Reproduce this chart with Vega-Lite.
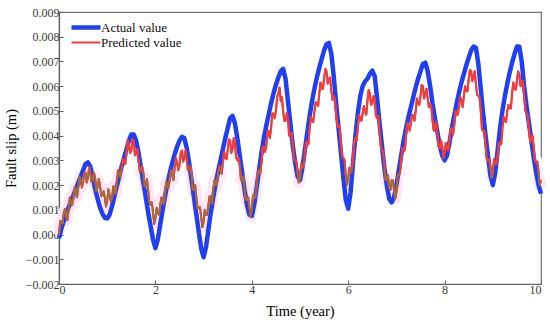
{
  "$schema": "https://vega.github.io/schema/vega-lite/v6.json",
  "width": 482,
  "height": 272,
  "autosize": {"type": "none"},
  "padding": {"left": 59, "top": 12, "right": 9, "bottom": 40},
  "config": {
    "font": "Liberation Serif",
    "view": {"stroke": "#707070", "strokeWidth": 1.2},
    "axis": {
      "grid": false,
      "domainColor": "#606060",
      "domainWidth": 1.2,
      "tickColor": "#606060",
      "tickSize": -4,
      "labelFont": "Liberation Serif",
      "labelFontSize": 12,
      "labelColor": "#3a3a3a",
      "labelPadding": 4,
      "labelOverlap": false,
      "titleFont": "Liberation Serif",
      "titleFontSize": 14.5,
      "titleFontWeight": "normal",
      "titleColor": "#000000"
    }
  },
  "data": {"values": [
    {"t":0.00,"a":-0.00015,"p":0.00000},{"t":0.05,"a":0.00025,"p":0.00050},{"t":0.10,"a":0.00055,"p":0.00090},{"t":0.15,"a":0.00085,"p":0.00075},
    {"t":0.20,"a":0.00110,"p":0.00100},{"t":0.25,"a":0.00135,"p":0.00130},{"t":0.30,"a":0.00160,"p":0.00150},{"t":0.35,"a":0.00185,"p":0.00180},
    {"t":0.40,"a":0.00210,"p":0.00190},{"t":0.45,"a":0.00235,"p":0.00220},{"t":0.50,"a":0.00260,"p":0.00210},{"t":0.55,"a":0.00285,"p":0.00250},
    {"t":0.60,"a":0.00292,"p":0.00230},{"t":0.65,"a":0.00275,"p":0.00245},{"t":0.70,"a":0.00230,"p":0.00220},{"t":0.75,"a":0.00185,"p":0.00230},
    {"t":0.80,"a":0.00145,"p":0.00190},{"t":0.85,"a":0.00110,"p":0.00200},{"t":0.90,"a":0.00085,"p":0.00160},{"t":0.95,"a":0.00068,"p":0.00150},
    {"t":1.00,"a":0.00065,"p":0.00135},{"t":1.05,"a":0.00080,"p":0.00160},{"t":1.10,"a":0.00115,"p":0.00150},{"t":1.15,"a":0.00155,"p":0.00190},
    {"t":1.20,"a":0.00195,"p":0.00210},{"t":1.25,"a":0.00235,"p":0.00250},{"t":1.30,"a":0.00275,"p":0.00270},{"t":1.35,"a":0.00310,"p":0.00300},
    {"t":1.40,"a":0.00345,"p":0.00330},{"t":1.45,"a":0.00380,"p":0.00360},{"t":1.50,"a":0.00405,"p":0.00340},{"t":1.55,"a":0.00405,"p":0.00380},
    {"t":1.60,"a":0.00380,"p":0.00330},{"t":1.65,"a":0.00330,"p":0.00300},{"t":1.70,"a":0.00270,"p":0.00260},{"t":1.75,"a":0.00210,"p":0.00250},
    {"t":1.80,"a":0.00150,"p":0.00200},{"t":1.85,"a":0.00090,"p":0.00180},{"t":1.90,"a":0.00035,"p":0.00120},{"t":1.95,"a":-0.00020,"p":0.00090},
    {"t":2.00,"a":-0.00055,"p":0.00065},{"t":2.05,"a":-0.00020,"p":0.00090},{"t":2.10,"a":0.00040,"p":0.00120},{"t":2.15,"a":0.00100,"p":0.00140},
    {"t":2.20,"a":0.00155,"p":0.00170},{"t":2.25,"a":0.00205,"p":0.00190},{"t":2.30,"a":0.00250,"p":0.00230},{"t":2.35,"a":0.00290,"p":0.00240},
    {"t":2.40,"a":0.00325,"p":0.00270},{"t":2.45,"a":0.00355,"p":0.00290},{"t":2.50,"a":0.00380,"p":0.00280},{"t":2.55,"a":0.00395,"p":0.00340},
    {"t":2.60,"a":0.00390,"p":0.00310},{"t":2.65,"a":0.00350,"p":0.00300},{"t":2.70,"a":0.00290,"p":0.00260},{"t":2.75,"a":0.00220,"p":0.00240},
    {"t":2.80,"a":0.00150,"p":0.00190},{"t":2.85,"a":0.00080,"p":0.00150},{"t":2.90,"a":0.00010,"p":0.00110},{"t":2.95,"a":-0.00055,"p":0.00070},
    {"t":3.00,"a":-0.00092,"p":0.00050},{"t":3.05,"a":-0.00050,"p":0.00080},{"t":3.10,"a":0.00020,"p":0.00120},{"t":3.15,"a":0.00090,"p":0.00140},
    {"t":3.20,"a":0.00150,"p":0.00180},{"t":3.25,"a":0.00205,"p":0.00200},{"t":3.30,"a":0.00255,"p":0.00250},{"t":3.35,"a":0.00300,"p":0.00260},
    {"t":3.40,"a":0.00345,"p":0.00290},{"t":3.45,"a":0.00390,"p":0.00310},{"t":3.50,"a":0.00430,"p":0.00340},{"t":3.55,"a":0.00470,"p":0.00380},
    {"t":3.60,"a":0.00480,"p":0.00350},{"t":3.65,"a":0.00450,"p":0.00370},{"t":3.70,"a":0.00390,"p":0.00300},{"t":3.75,"a":0.00320,"p":0.00280},
    {"t":3.80,"a":0.00250,"p":0.00220},{"t":3.85,"a":0.00180,"p":0.00180},{"t":3.90,"a":0.00120,"p":0.00140},{"t":3.95,"a":0.00080,"p":0.00110},
    {"t":4.00,"a":0.00075,"p":0.00105},{"t":4.05,"a":0.00120,"p":0.00150},{"t":4.10,"a":0.00190,"p":0.00200},{"t":4.15,"a":0.00260,"p":0.00260},
    {"t":4.20,"a":0.00330,"p":0.00290},{"t":4.25,"a":0.00390,"p":0.00350},{"t":4.30,"a":0.00440,"p":0.00360},{"t":4.35,"a":0.00485,"p":0.00420},
    {"t":4.40,"a":0.00530,"p":0.00430},{"t":4.45,"a":0.00570,"p":0.00490},{"t":4.50,"a":0.00605,"p":0.00500},{"t":4.55,"a":0.00635,"p":0.00570},
    {"t":4.60,"a":0.00660,"p":0.00540},{"t":4.65,"a":0.00670,"p":0.00500},{"t":4.70,"a":0.00630,"p":0.00460},{"t":4.75,"a":0.00540,"p":0.00470},
    {"t":4.80,"a":0.00450,"p":0.00400},{"t":4.85,"a":0.00360,"p":0.00360},{"t":4.90,"a":0.00290,"p":0.00300},{"t":4.95,"a":0.00235,"p":0.00250},
    {"t":5.00,"a":0.00220,"p":0.00230},{"t":5.05,"a":0.00270,"p":0.00270},{"t":5.10,"a":0.00340,"p":0.00330},{"t":5.15,"a":0.00410,"p":0.00370},
    {"t":5.20,"a":0.00480,"p":0.00430},{"t":5.25,"a":0.00540,"p":0.00460},{"t":5.30,"a":0.00590,"p":0.00500},{"t":5.35,"a":0.00635,"p":0.00530},
    {"t":5.40,"a":0.00675,"p":0.00570},{"t":5.45,"a":0.00710,"p":0.00590},{"t":5.50,"a":0.00745,"p":0.00630},{"t":5.55,"a":0.00770,"p":0.00660},
    {"t":5.60,"a":0.00775,"p":0.00630},{"t":5.65,"a":0.00730,"p":0.00580},{"t":5.70,"a":0.00640,"p":0.00560},{"t":5.75,"a":0.00530,"p":0.00490},
    {"t":5.80,"a":0.00430,"p":0.00440},{"t":5.85,"a":0.00330,"p":0.00360},{"t":5.90,"a":0.00230,"p":0.00310},{"t":5.95,"a":0.00140,"p":0.00240},
    {"t":6.00,"a":0.00105,"p":0.00230},{"t":6.05,"a":0.00170,"p":0.00250},{"t":6.10,"a":0.00290,"p":0.00310},{"t":6.15,"a":0.00400,"p":0.00390},
    {"t":6.20,"a":0.00490,"p":0.00430},{"t":6.25,"a":0.00560,"p":0.00470},{"t":6.30,"a":0.00600,"p":0.00490},{"t":6.35,"a":0.00620,"p":0.00500},
    {"t":6.40,"a":0.00630,"p":0.00540},{"t":6.45,"a":0.00650,"p":0.00570},{"t":6.50,"a":0.00663,"p":0.00530},{"t":6.55,"a":0.00640,"p":0.00550},
    {"t":6.60,"a":0.00550,"p":0.00470},{"t":6.65,"a":0.00450,"p":0.00420},{"t":6.70,"a":0.00360,"p":0.00340},{"t":6.75,"a":0.00270,"p":0.00280},
    {"t":6.80,"a":0.00200,"p":0.00230},{"t":6.85,"a":0.00145,"p":0.00190},{"t":6.90,"a":0.00130,"p":0.00220},{"t":6.95,"a":0.00150,"p":0.00180},
    {"t":7.00,"a":0.00200,"p":0.00170},{"t":7.05,"a":0.00260,"p":0.00240},{"t":7.10,"a":0.00320,"p":0.00300},{"t":7.15,"a":0.00380,"p":0.00350},
    {"t":7.20,"a":0.00430,"p":0.00400},{"t":7.25,"a":0.00475,"p":0.00440},{"t":7.30,"a":0.00515,"p":0.00450},{"t":7.35,"a":0.00555,"p":0.00480},
    {"t":7.40,"a":0.00595,"p":0.00500},{"t":7.45,"a":0.00630,"p":0.00530},{"t":7.50,"a":0.00660,"p":0.00560},{"t":7.55,"a":0.00690,"p":0.00600},
    {"t":7.60,"a":0.00695,"p":0.00570},{"t":7.65,"a":0.00660,"p":0.00550},{"t":7.70,"a":0.00600,"p":0.00530},{"t":7.75,"a":0.00530,"p":0.00460},
    {"t":7.80,"a":0.00470,"p":0.00440},{"t":7.85,"a":0.00415,"p":0.00400},{"t":7.90,"a":0.00360,"p":0.00350},{"t":7.95,"a":0.00320,"p":0.00360},
    {"t":8.00,"a":0.00300,"p":0.00330},{"t":8.05,"a":0.00320,"p":0.00350},{"t":8.10,"a":0.00370,"p":0.00380},{"t":8.15,"a":0.00430,"p":0.00430},
    {"t":8.20,"a":0.00480,"p":0.00440},{"t":8.25,"a":0.00530,"p":0.00490},{"t":8.30,"a":0.00575,"p":0.00520},{"t":8.35,"a":0.00615,"p":0.00540},
    {"t":8.40,"a":0.00650,"p":0.00560},{"t":8.45,"a":0.00685,"p":0.00580},{"t":8.50,"a":0.00715,"p":0.00630},{"t":8.55,"a":0.00745,"p":0.00660},
    {"t":8.60,"a":0.00760,"p":0.00640},{"t":8.65,"a":0.00755,"p":0.00610},{"t":8.70,"a":0.00690,"p":0.00560},{"t":8.75,"a":0.00590,"p":0.00500},
    {"t":8.80,"a":0.00490,"p":0.00420},{"t":8.85,"a":0.00400,"p":0.00360},{"t":8.90,"a":0.00320,"p":0.00300},{"t":8.95,"a":0.00240,"p":0.00270},
    {"t":9.00,"a":0.00200,"p":0.00250},{"t":9.05,"a":0.00250,"p":0.00290},{"t":9.10,"a":0.00340,"p":0.00320},{"t":9.15,"a":0.00430,"p":0.00370},
    {"t":9.20,"a":0.00500,"p":0.00430},{"t":9.25,"a":0.00560,"p":0.00460},{"t":9.30,"a":0.00610,"p":0.00500},{"t":9.35,"a":0.00655,"p":0.00510},
    {"t":9.40,"a":0.00695,"p":0.00570},{"t":9.45,"a":0.00730,"p":0.00590},{"t":9.50,"a":0.00760,"p":0.00620},{"t":9.55,"a":0.00760,"p":0.00650},
    {"t":9.60,"a":0.00700,"p":0.00620},{"t":9.65,"a":0.00600,"p":0.00560},{"t":9.70,"a":0.00520,"p":0.00490},{"t":9.75,"a":0.00450,"p":0.00430},
    {"t":9.80,"a":0.00380,"p":0.00380},{"t":9.85,"a":0.00310,"p":0.00350},{"t":9.90,"a":0.00250,"p":0.00290},{"t":9.95,"a":0.00200,"p":0.00250},
    {"t":10.00,"a":0.00165,"p":0.00220},
    {"t":0.025,"p":0.00055},{"t":0.075,"p":0.00045},{"t":0.125,"p":0.00103},{"t":0.175,"p":0.00058},{"t":0.225,"p":0.00150},{"t":0.275,"p":0.00120},{"t":0.325,"p":0.00190},{"t":0.375,"p":0.00150},
    {"t":0.425,"p":0.00235},{"t":0.475,"p":0.00190},{"t":0.525,"p":0.00250},{"t":0.575,"p":0.00210},{"t":0.625,"p":0.00273},{"t":0.675,"p":0.00213},{"t":0.725,"p":0.00250},{"t":0.775,"p":0.00175},
    {"t":0.825,"p":0.00225},{"t":0.875,"p":0.00155},{"t":0.925,"p":0.00175},{"t":0.975,"p":0.00113},{"t":1.025,"p":0.00183},{"t":1.075,"p":0.00135},{"t":1.125,"p":0.00195},{"t":1.175,"p":0.00165},
    {"t":1.225,"p":0.00260},{"t":1.275,"p":0.00235},{"t":1.325,"p":0.00305},{"t":1.375,"p":0.00285},{"t":1.425,"p":0.00380},{"t":1.475,"p":0.00330},{"t":1.525,"p":0.00385},{"t":1.575,"p":0.00320},
    {"t":1.625,"p":0.00345},{"t":1.675,"p":0.00255},{"t":1.725,"p":0.00275},{"t":1.775,"p":0.00195},{"t":1.825,"p":0.00225},{"t":1.875,"p":0.00130},{"t":1.925,"p":0.00130},{"t":1.975,"p":0.00043},
    {"t":2.025,"p":0.00108},{"t":2.075,"p":0.00080},{"t":2.125,"p":0.00150},{"t":2.175,"p":0.00125},{"t":2.225,"p":0.00215},{"t":2.275,"p":0.00190},{"t":2.325,"p":0.00260},{"t":2.375,"p":0.00220},
    {"t":2.425,"p":0.00310},{"t":2.475,"p":0.00260},{"t":2.525,"p":0.00330},{"t":2.575,"p":0.00295},{"t":2.625,"p":0.00340},{"t":2.675,"p":0.00260},{"t":2.725,"p":0.00275},{"t":2.775,"p":0.00180},
    {"t":2.825,"p":0.00200},{"t":2.875,"p":0.00105},{"t":2.925,"p":0.00110},{"t":2.975,"p":0.00030},{"t":3.025,"p":0.00100},{"t":3.075,"p":0.00080},{"t":3.125,"p":0.00155},{"t":3.175,"p":0.00125},
    {"t":3.225,"p":0.00220},{"t":3.275,"p":0.00200},{"t":3.325,"p":0.00275},{"t":3.375,"p":0.00245},{"t":3.425,"p":0.00335},{"t":3.475,"p":0.00305},{"t":3.525,"p":0.00385},{"t":3.575,"p":0.00330},
    {"t":3.625,"p":0.00390},{"t":3.675,"p":0.00310},{"t":3.725,"p":0.00310},{"t":3.775,"p":0.00220},{"t":3.825,"p":0.00235},{"t":3.875,"p":0.00140},{"t":3.925,"p":0.00150},{"t":3.975,"p":0.00073},
    {"t":4.025,"p":0.00158},{"t":4.075,"p":0.00150},{"t":4.125,"p":0.00250},{"t":4.175,"p":0.00245},{"t":4.225,"p":0.00355},{"t":4.275,"p":0.00335},{"t":4.325,"p":0.00415},{"t":4.375,"p":0.00390},
    {"t":4.425,"p":0.00490},{"t":4.475,"p":0.00470},{"t":4.525,"p":0.00555},{"t":4.575,"p":0.00595},{"t":4.625,"p":0.00555},{"t":4.675,"p":0.00460},{"t":4.725,"p":0.00490},{"t":4.775,"p":0.00400},
    {"t":4.825,"p":0.00410},{"t":4.875,"p":0.00305},{"t":4.925,"p":0.00295},{"t":4.975,"p":0.00210},{"t":5.025,"p":0.00285},{"t":5.075,"p":0.00280},{"t":5.125,"p":0.00375},{"t":5.175,"p":0.00365},
    {"t":5.225,"p":0.00475},{"t":5.275,"p":0.00455},{"t":5.325,"p":0.00535},{"t":5.375,"p":0.00520},{"t":5.425,"p":0.00615},{"t":5.475,"p":0.00590},{"t":5.525,"p":0.00670},{"t":5.575,"p":0.00610},
    {"t":5.625,"p":0.00635},{"t":5.675,"p":0.00545},{"t":5.725,"p":0.00545},{"t":5.775,"p":0.00435},{"t":5.825,"p":0.00435},{"t":5.875,"p":0.00315},{"t":5.925,"p":0.00300},{"t":5.975,"p":0.00200},
    {"t":6.025,"p":0.00270},{"t":6.075,"p":0.00255},{"t":6.125,"p":0.00370},{"t":6.175,"p":0.00380},{"t":6.225,"p":0.00485},{"t":6.275,"p":0.00460},{"t":6.325,"p":0.00520},{"t":6.375,"p":0.00485},
    {"t":6.425,"p":0.00585},{"t":6.475,"p":0.00525},{"t":6.525,"p":0.00560},{"t":6.575,"p":0.00480},{"t":6.625,"p":0.00480},{"t":6.675,"p":0.00360},{"t":6.725,"p":0.00335},{"t":6.775,"p":0.00220},
    {"t":6.825,"p":0.00240},{"t":6.875,"p":0.00180},{"t":6.925,"p":0.00220},{"t":6.975,"p":0.00145},{"t":7.025,"p":0.00240},{"t":7.075,"p":0.00250},{"t":7.125,"p":0.00350},{"t":7.175,"p":0.00340},
    {"t":7.225,"p":0.00450},{"t":7.275,"p":0.00420},{"t":7.325,"p":0.00485},{"t":7.375,"p":0.00460},{"t":7.425,"p":0.00550},{"t":7.475,"p":0.00525},{"t":7.525,"p":0.00605},{"t":7.575,"p":0.00550},
    {"t":7.625,"p":0.00590},{"t":7.675,"p":0.00515},{"t":7.725,"p":0.00515},{"t":7.775,"p":0.00420},{"t":7.825,"p":0.00455},{"t":7.875,"p":0.00355},{"t":7.925,"p":0.00380},{"t":7.975,"p":0.00310},
    {"t":8.025,"p":0.00370},{"t":8.075,"p":0.00340},{"t":8.125,"p":0.00425},{"t":8.175,"p":0.00405},{"t":8.225,"p":0.00500},{"t":8.275,"p":0.00485},{"t":8.325,"p":0.00555},{"t":8.375,"p":0.00515},
    {"t":8.425,"p":0.00600},{"t":8.475,"p":0.00580},{"t":8.525,"p":0.00665},{"t":8.575,"p":0.00620},{"t":8.625,"p":0.00660},{"t":8.675,"p":0.00565},{"t":8.725,"p":0.00555},{"t":8.775,"p":0.00425},
    {"t":8.825,"p":0.00420},{"t":8.875,"p":0.00305},{"t":8.925,"p":0.00305},{"t":8.975,"p":0.00230},{"t":9.025,"p":0.00305},{"t":9.075,"p":0.00285},{"t":9.125,"p":0.00370},{"t":9.175,"p":0.00365},
    {"t":9.225,"p":0.00475},{"t":9.275,"p":0.00455},{"t":9.325,"p":0.00525},{"t":9.375,"p":0.00510},{"t":9.425,"p":0.00615},{"t":9.475,"p":0.00585},{"t":9.525,"p":0.00660},{"t":9.575,"p":0.00600},
    {"t":9.625,"p":0.00620},{"t":9.675,"p":0.00500},{"t":9.725,"p":0.00480},{"t":9.775,"p":0.00375},{"t":9.825,"p":0.00400},{"t":9.875,"p":0.00300},{"t":9.925,"p":0.00295},{"t":9.975,"p":0.00200}
  ]},
  "encoding": {
    "x": {"field": "t", "type": "quantitative", "title": "Time (year)",
      "scale": {"domain": [0, 10], "nice": false},
      "axis": {"values": [0, 2, 4, 6, 8, 10], "format": "d", "titlePadding": 9}}
  },
  "layer": [
    {
      "mark": {"type": "line", "strokeWidth": 11, "strokeJoin": "round", "strokeCap": "butt",
        "stroke": {"gradient": "linear", "x1": 0, "y1": 0, "x2": 0, "y2": 1,
          "stops": [{"offset": 0, "color": "#ffffff"}, {"offset": 0.56, "color": "#ffffff"}, {"offset": 0.68, "color": "#fde5f6"}, {"offset": 1, "color": "#fde5f6"}]}},
      "encoding": {
        "y": {"field": "p", "type": "quantitative", "title": "Fault slip (m)",
          "scale": {"domain": [-0.002, 0.009], "nice": false},
          "axis": {"values": [-0.002, -0.001, 0, 0.001, 0.002, 0.003, 0.004, 0.005, 0.006, 0.007, 0.008, 0.009], "format": ".3f", "titlePadding": 7, "labelOverlap": false}}
      }
    },
    {
      "transform": [{"fold": ["a", "p"], "as": ["s", "v"]}, {"filter": "isValid(datum.v)"}],
      "mark": {"type": "line", "strokeJoin": "round"},
      "encoding": {
        "y": {"field": "v", "type": "quantitative", "title": "Fault slip (m)",
          "scale": {"domain": [-0.002, 0.009], "nice": false},
          "axis": {"values": [-0.002, -0.001, 0, 0.001, 0.002, 0.003, 0.004, 0.005, 0.006, 0.007, 0.008, 0.009], "format": ".3f", "titlePadding": 7, "labelOverlap": false}},
        "color": {"field": "s", "type": "nominal", "title": null,
          "scale": {"domain": ["a", "p"], "range": ["#1f3ff2", "#f23c3c"]},
          "legend": {"orient": "none", "legendX": 10, "legendY": 8, "padding": 0,
            "symbolType": "stroke", "symbolSize": 841, "clipHeight": 15, "rowPadding": 0,
            "labelFont": "Liberation Serif", "labelFontSize": 13, "labelColor": "#111111", "labelOffset": -2,
            "labelExpr": "datum.label == 'a' ? 'Actual value' : 'Predicted value'"}},
        "strokeWidth": {"field": "s", "type": "nominal", "title": null,
          "scale": {"domain": ["a", "p"], "range": [4.5, 2]},
          "legend": {"orient": "none", "legendX": 10, "legendY": 8, "padding": 0,
            "symbolType": "stroke", "symbolSize": 841, "clipHeight": 15, "rowPadding": 0,
            "labelFont": "Liberation Serif", "labelFontSize": 13, "labelColor": "#111111", "labelOffset": -2,
            "labelExpr": "datum.label == 'a' ? 'Actual value' : 'Predicted value'"}}
      }
    },
    {
      "mark": {"type": "line", "strokeWidth": 2, "strokeJoin": "round",
        "stroke": {"gradient": "linear", "x1": 0, "y1": 0, "x2": 0, "y2": 1,
          "stops": [{"offset": 0, "color": "#f23c3c"}, {"offset": 0.55, "color": "#f23c3c"}, {"offset": 0.65, "color": "#a8683c"}, {"offset": 1, "color": "#a8683c"}]}},
      "encoding": {
        "y": {"field": "p", "type": "quantitative", "title": "Fault slip (m)",
          "scale": {"domain": [-0.002, 0.009], "nice": false},
          "axis": {"values": [-0.002, -0.001, 0, 0.001, 0.002, 0.003, 0.004, 0.005, 0.006, 0.007, 0.008, 0.009], "format": ".3f", "titlePadding": 7, "labelOverlap": false}}
      }
    }
  ]
}
